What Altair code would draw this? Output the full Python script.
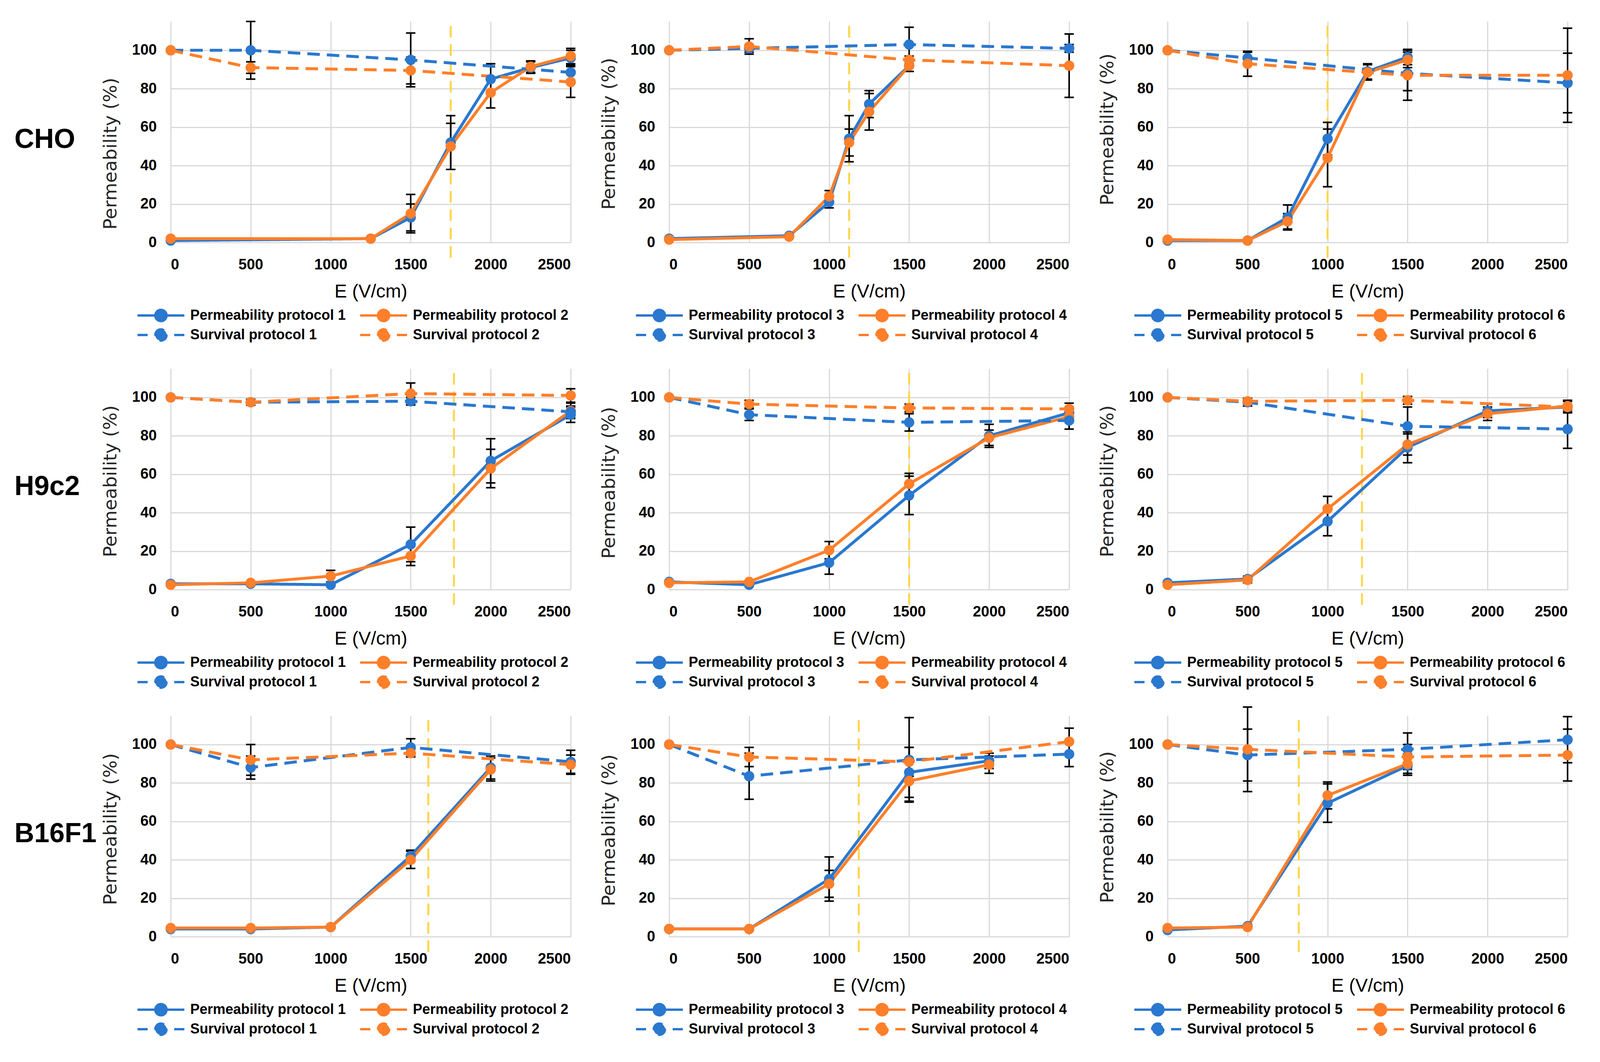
import altair as alt
import pandas as pd

# ---------------- data ----------------
E_TICKS = [0, 500, 1000, 1500, 2000, 2500]
P_TICKS = [0, 20, 40, 60, 80, 100]
ROW_LABELS = ["CHO", "H9c2", "B16F1"]
PROTOCOL_PAIRS = [(1, 2), (3, 4), (5, 6)]
X_TITLE = "E (V/cm)"
Y_TITLE = "Permeability (%)"

SURV_E = [0, 500, 1500, 2500]

# CHO
CHO_P12_E = [0, 1250, 1500, 1750, 2000, 2250, 2500]
CHO_PERM_P1 = [1, 2, 13, 52, 85, 91, 96]
CHO_PERM_P1_ERR = [0, 0, 7, 14, 8, 3, 4]
CHO_PERM_P2 = [2, 2, 15, 50, 78, 91.5, 97]
CHO_PERM_P2_ERR = [0, 0, 10, 12, 8, 3, 4]
CHO_SURV_P1 = [100, 100, 95, 88.5]
CHO_SURV_P1_ERR = [0, 15, 14, 4]
CHO_SURV_P2 = [100, 91, 89.5, 83.5]
CHO_SURV_P2_ERR = [0, 3, 7, 8]

CHO_P34_E = [0, 750, 1000, 1125, 1250, 1500]
CHO_PERM_P3 = [2, 3.5, 21, 54, 72, 92]
CHO_PERM_P3_ERR = [0, 0, 3, 12, 7, 3]
CHO_PERM_P4 = [1.5, 3, 24, 52, 68, 92]
CHO_PERM_P4_ERR = [0, 0, 3, 7, 9.5, 3]
CHO_SURV_P3 = [100, 101, 103, 101]
CHO_SURV_P3_ERR = [0, 2, 9, 2]
CHO_SURV_P4 = [100, 102, 95, 92]
CHO_SURV_P4_ERR = [0, 4, 2, 16.5]

CHO_P56_E = [0, 500, 750, 1000, 1250, 1500]
CHO_PERM_P5 = [1, 1, 13, 54, 89, 96.5]
CHO_PERM_P5_ERR = [0, 0, 6.5, 8.5, 4, 4]
CHO_PERM_P6 = [1.5, 1, 11, 44, 88.5, 95]
CHO_PERM_P6_ERR = [0, 0, 4, 15, 4, 4]
CHO_SURV_P5 = [100, 96, 88, 83]
CHO_SURV_P5_ERR = [0, 3, 9, 15.5]
CHO_SURV_P6 = [100, 93, 87, 87]
CHO_SURV_P6_ERR = [0, 6.5, 13, 24.5]

# H9c2
H9C2_E = [0, 500, 1000, 1500, 2000, 2500]
H9C2_PERM_P1 = [3, 3, 2.5, 23.5, 67, 91]
H9C2_PERM_P1_ERR = [0, 0, 0, 9, 11.5, 4]
H9C2_PERM_P2 = [2.5, 3.5, 7, 17.5, 63, 93]
H9C2_PERM_P2_ERR = [0, 0, 3, 5, 10, 4]
H9C2_SURV_P1 = [100, 97.5, 98, 92.5]
H9C2_SURV_P1_ERR = [0, 1.5, 2, 3]
H9C2_SURV_P2 = [100, 97.5, 102, 101]
H9C2_SURV_P2_ERR = [0, 1.5, 5.5, 3.5]

H9C2_PERM_P3 = [4, 2.5, 14, 49, 80, 92]
H9C2_PERM_P3_ERR = [0, 0, 6, 10, 6, 3]
H9C2_PERM_P4 = [3.5, 4, 20.5, 55, 79, 90]
H9C2_PERM_P4_ERR = [0, 0, 4.5, 5.5, 4, 3]
H9C2_SURV_P3 = [100, 91, 87, 88]
H9C2_SURV_P3_ERR = [0, 3, 4.5, 4.5]
H9C2_SURV_P4 = [100, 96.5, 94.5, 94]
H9C2_SURV_P4_ERR = [0, 2, 2, 3]

H9C2_PERM_P5 = [3.5, 5.5, 35.5, 74, 93, 95]
H9C2_PERM_P5_ERR = [0, 1.5, 7.5, 8, 3.5, 3]
H9C2_PERM_P6 = [2.5, 5, 42, 75.5, 91.5, 95.5]
H9C2_PERM_P6_ERR = [0, 1.5, 6.5, 5.5, 3.5, 3]
H9C2_SURV_P5 = [100, 97.5, 85, 83.5]
H9C2_SURV_P5_ERR = [0, 2, 10, 10]
H9C2_SURV_P6 = [100, 98, 98.5, 95]
H9C2_SURV_P6_ERR = [0, 1.5, 2, 3]

# B16F1
B16_E = [0, 500, 1000, 1500, 2000]
B16_PERM_P1 = [4, 4, 5, 42, 88]
B16_PERM_P1_ERR = [0, 0, 0, 3, 6]
B16_PERM_P2 = [4.5, 4.5, 5, 40, 87]
B16_PERM_P2_ERR = [0, 0, 0, 4.5, 6]
B16_SURV_P1 = [100, 88, 98.5, 91]
B16_SURV_P1_ERR = [0, 6, 4.5, 6]
B16_SURV_P2 = [100, 92, 95.5, 89.5]
B16_SURV_P2_ERR = [0, 8, 2, 5]

B16_PERM_P3 = [4, 4, 30, 85.5, 91.5]
B16_PERM_P3_ERR = [0, 0, 11.5, 13, 4]
B16_PERM_P4 = [4, 4, 27.5, 81, 89.5]
B16_PERM_P4_ERR = [0, 0, 7, 10.5, 4.5]
B16_SURV_P3 = [100, 83.5, 92, 95]
B16_SURV_P3_ERR = [0, 12, 22, 6.5]
B16_SURV_P4 = [100, 93.5, 91, 101.5]
B16_SURV_P4_ERR = [0, 5, 7.5, 7]

B16_P56_E = [0, 500, 1000, 1500]
B16_PERM_P5 = [3.5, 5.5, 69.5, 89]
B16_PERM_P5_ERR = [0, 0, 10, 5]
B16_PERM_P6 = [4.5, 5, 73.5, 90]
B16_PERM_P6_ERR = [0, 0, 7, 5]
B16_SURV_P5 = [100, 94.5, 97.5, 102.5]
B16_SURV_P5_ERR = [0, 13.5, 8.5, 12]
B16_SURV_P6 = [100, 97.5, 93.5, 94.5]
B16_SURV_P6_ERR = [0, 22, 6.5, 13.5]

# threshold field (yellow dashed line) per panel
THRESH_CHO = [1750, 1125, 1000]
THRESH_H9C2 = [1770, 1500, 1215]
THRESH_B16 = [1610, 1185, 820]

# ---------------- style ----------------
BLUE = "#2A78CF"
ORANGE = "#FF7F2A"
YELLOW = "#FFD54A"
GRID = "#D9D9D9"
FONT = "Liberation Sans"
YFONT = "DejaVu Sans"
PW, PH = 1024, 566
COL_GAP = 252
ROW_GAP = 323
LABEL_W = 148
# vertical centre (px from plot top) of each panel's y-axis title
Y_TITLE_POS = [[338, 287, 276], [288, 292, 288], [290, 293, 285]]
SYMBOL_PATH = ("M-1,0L1,0M0.24,0A0.24,0.24,0,1,1,-0.24,0"
               "A0.24,0.24,0,1,1,0.24,0Z")


def build_df(perm_e, pa, pa_err, pb, pb_err, sa, sa_err, sb, sb_err, names):
    parts = []
    for e_list, vals, errs, name in [
        (perm_e, pa, pa_err, names[0]),
        (perm_e, pb, pb_err, names[2]),
        (SURV_E, sa, sa_err, names[1]),
        (SURV_E, sb, sb_err, names[3]),
    ]:
        d = pd.DataFrame({"E": e_list, "value": vals, "err": errs})
        d["series"] = name
        parts.append(d)
    df = pd.concat(parts, ignore_index=True)
    df["lo"] = df["value"] - df["err"]
    df["hi"] = df["value"] + df["err"]
    return df


def panel(perm_e, pa, pa_err, pb, pb_err, sa, sa_err, sb, sb_err, proto, thr, ytitle_y):
    a, b = proto
    # legend fills column by column: col 1 = protocol a, col 2 = protocol b
    names = [f"Permeability protocol {a}", f"Survival protocol {a}",
             f"Permeability protocol {b}", f"Survival protocol {b}"]
    df = build_df(perm_e, pa, pa_err, pb, pb_err, sa, sa_err, sb, sb_err, names)
    err_df = df[df["err"] > 0]

    xscale = alt.Scale(domain=[0, 2500], nice=False, zero=False)
    yscale = alt.Scale(domain=[0, 115], nice=False, zero=False)
    xaxis = alt.Axis(values=E_TICKS, format="d", title=X_TITLE, grid=True,
                     gridColor=GRID, gridWidth=3, domain=False, ticks=False,
                     labelFont=FONT, labelFontSize=38, labelFontWeight="bold",
                     labelColor="black", labelPadding=38, titleFont=FONT,
                     titleFontSize=48, titleFontWeight="normal", titleColor="black",
                     titlePadding=26)
    yaxis = alt.Axis(values=P_TICKS, format="d", title=Y_TITLE, grid=True,
                     gridColor=GRID, gridWidth=3, domain=False, ticks=False,
                     labelFont=FONT, labelFontSize=38, labelFontWeight="bold",
                     labelColor="black", labelPadding=36, titleFont=YFONT,
                     titleFontSize=47, titleFontWeight="normal", titleColor="#262626",
                     titlePadding=30, titleY=ytitle_y)
    x = alt.X("E:Q", scale=xscale, axis=xaxis)

    leg = alt.Legend(title=None, orient="none", legendX=-88, legendY=735,
                     columns=2, columnPadding=33, rowPadding=14, clipHeight=36,
                     symbolType=SYMBOL_PATH, symbolSize=14400, symbolStrokeWidth=6,
                     symbolDashOffset=6, labelFont=FONT, labelFontSize=36,
                     labelFontWeight="bold", labelColor="black", labelOffset=12,
                     labelLimit=0, padding=0)
    crange = [BLUE, BLUE, ORANGE, ORANGE]
    fill = alt.Fill("series:N", scale=alt.Scale(domain=names, range=crange), legend=leg)
    stroke = alt.Stroke("series:N", scale=alt.Scale(domain=names, range=crange), legend=leg)
    dash = alt.StrokeDash("series:N",
                          scale=alt.Scale(domain=names,
                                          range=[[1, 0], [32, 18], [1, 0], [32, 18]]),
                          legend=leg)

    thr_layer = alt.Chart(pd.DataFrame({"E": [thr]})).mark_rule(
        color=YELLOW, strokeWidth=5, strokeDash=[30, 17]
    ).encode(x=x, y=alt.YDatum(-8, scale=yscale, axis=yaxis), y2=alt.Y2Datum(113))

    err_rule = alt.Chart(err_df).mark_rule(color="black", strokeWidth=4).encode(
        x=x, y=alt.Y("lo:Q", scale=yscale, axis=yaxis), y2="hi:Q")
    cap_lo = alt.Chart(err_df).mark_tick(color="black", orient="horizontal",
                                         thickness=4, size=24, opacity=1).encode(
        x=x, y=alt.Y("lo:Q", scale=yscale, axis=yaxis))
    cap_hi = alt.Chart(err_df).mark_tick(color="black", orient="horizontal",
                                         thickness=4, size=24, opacity=1).encode(
        x=x, y=alt.Y("hi:Q", scale=yscale, axis=yaxis))

    lines = alt.Chart(df).mark_line(strokeWidth=7.5, fillOpacity=0).encode(
        x=x, y=alt.Y("value:Q", scale=yscale, axis=yaxis),
        stroke=stroke, fill=fill, strokeDash=dash)
    points = alt.Chart(df).mark_point(filled=True, size=700, opacity=1,
                                      strokeWidth=0).encode(
        x=x, y=alt.Y("value:Q", scale=yscale, axis=yaxis), fill=fill)

    return alt.layer(thr_layer, err_rule, cap_lo, cap_hi, lines, points).properties(
        width=PW, height=PH)


def row_label(text):
    return alt.Chart(pd.DataFrame({"label": [text]})).mark_text(
        align="left", baseline="middle", font=FONT,
        fontSize=70, fontWeight="bold", color="black"
    ).encode(text="label:N", x=alt.value(0), y=alt.value(PH / 2 + 20)).properties(
        width=LABEL_W, height=PH)


IND = dict(fill="independent", stroke="independent", strokeDash="independent")

rows_data = [
    [
        (CHO_P12_E, CHO_PERM_P1, CHO_PERM_P1_ERR, CHO_PERM_P2, CHO_PERM_P2_ERR,
         CHO_SURV_P1, CHO_SURV_P1_ERR, CHO_SURV_P2, CHO_SURV_P2_ERR),
        (CHO_P34_E, CHO_PERM_P3, CHO_PERM_P3_ERR, CHO_PERM_P4, CHO_PERM_P4_ERR,
         CHO_SURV_P3, CHO_SURV_P3_ERR, CHO_SURV_P4, CHO_SURV_P4_ERR),
        (CHO_P56_E, CHO_PERM_P5, CHO_PERM_P5_ERR, CHO_PERM_P6, CHO_PERM_P6_ERR,
         CHO_SURV_P5, CHO_SURV_P5_ERR, CHO_SURV_P6, CHO_SURV_P6_ERR),
    ],
    [
        (H9C2_E, H9C2_PERM_P1, H9C2_PERM_P1_ERR, H9C2_PERM_P2, H9C2_PERM_P2_ERR,
         H9C2_SURV_P1, H9C2_SURV_P1_ERR, H9C2_SURV_P2, H9C2_SURV_P2_ERR),
        (H9C2_E, H9C2_PERM_P3, H9C2_PERM_P3_ERR, H9C2_PERM_P4, H9C2_PERM_P4_ERR,
         H9C2_SURV_P3, H9C2_SURV_P3_ERR, H9C2_SURV_P4, H9C2_SURV_P4_ERR),
        (H9C2_E, H9C2_PERM_P5, H9C2_PERM_P5_ERR, H9C2_PERM_P6, H9C2_PERM_P6_ERR,
         H9C2_SURV_P5, H9C2_SURV_P5_ERR, H9C2_SURV_P6, H9C2_SURV_P6_ERR),
    ],
    [
        (B16_E, B16_PERM_P1, B16_PERM_P1_ERR, B16_PERM_P2, B16_PERM_P2_ERR,
         B16_SURV_P1, B16_SURV_P1_ERR, B16_SURV_P2, B16_SURV_P2_ERR),
        (B16_E, B16_PERM_P3, B16_PERM_P3_ERR, B16_PERM_P4, B16_PERM_P4_ERR,
         B16_SURV_P3, B16_SURV_P3_ERR, B16_SURV_P4, B16_SURV_P4_ERR),
        (B16_P56_E, B16_PERM_P5, B16_PERM_P5_ERR, B16_PERM_P6, B16_PERM_P6_ERR,
         B16_SURV_P5, B16_SURV_P5_ERR, B16_SURV_P6, B16_SURV_P6_ERR),
    ],
]
thresholds = [THRESH_CHO, THRESH_H9C2, THRESH_B16]

cells = []
for label, panels_data, thr_list, ty_list in zip(ROW_LABELS, rows_data, thresholds,
                                                  Y_TITLE_POS):
    cells.append(row_label(label))
    for pdata, proto, thr, ty in zip(panels_data, PROTOCOL_PAIRS, thr_list, ty_list):
        cells.append(panel(*pdata, proto, thr, ty))

chart = alt.concat(
    *cells, columns=4, spacing=alt.RowColnumber(row=ROW_GAP, column=COL_GAP),
    bounds="flush", align="each"
).resolve_scale(**IND).properties(
    padding={"left": 29, "top": 45, "right": 5, "bottom": 5},
    background="white",
).configure_view(strokeWidth=0)

chart.save("out.html", embed_options={"renderer": "svg", "actions": False})
